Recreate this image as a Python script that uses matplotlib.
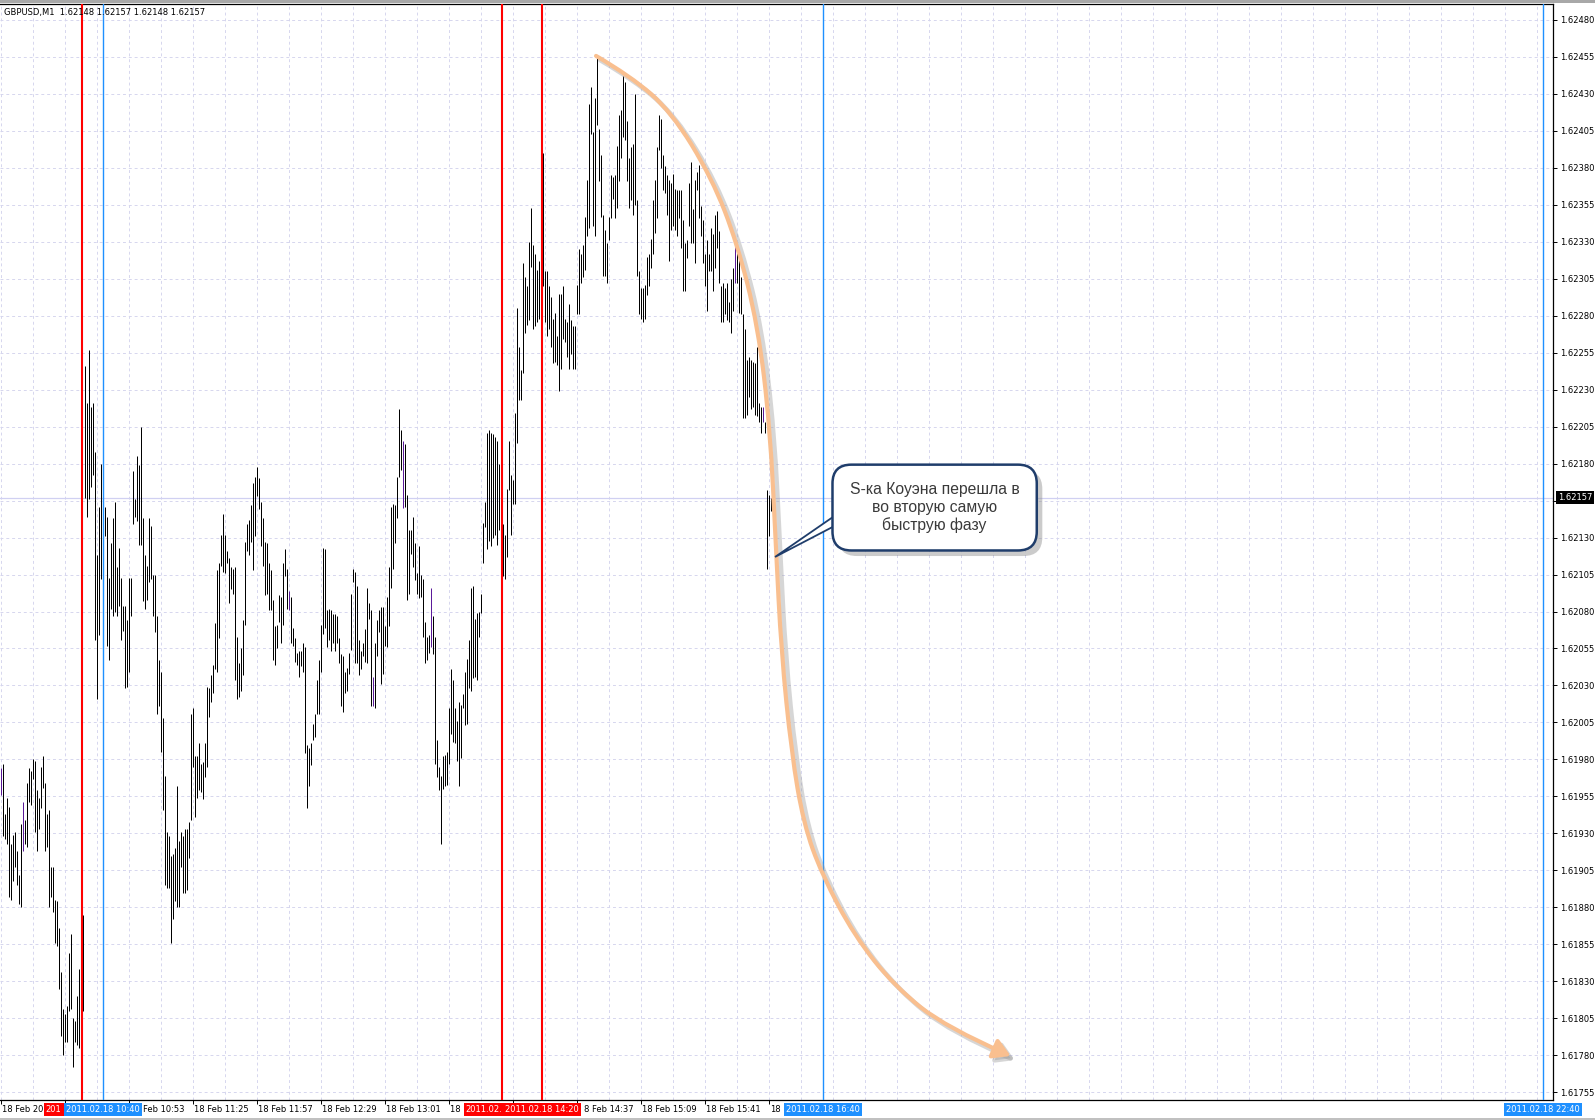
import numpy as np
import matplotlib
matplotlib.use("Agg")
import matplotlib.pyplot as plt
import matplotlib.transforms as mtransforms
import matplotlib.patheffects as pe
from matplotlib.path import Path
from matplotlib.patches import FancyArrowPatch, Polygon, Rectangle
from matplotlib.ticker import FuncFormatter


# =========================
# 1. Data (GBPUSD M1, prices in points above 1.61700)
# =========================
BASE = 1.617
POINT = 1e-5

highs = [
    274, 277, 243, 254, 248, 223, 229, 231, 218, 202, 236, 251, 239, 264, 274, 272, 280, 279, 259, 254,
    275, 282, 264, 243, 246, 207, 207, 185, 184, 166, 136, 111, 108, 113, 149, 162, 105, 103, 120, 138,
    133, 175, 546, 521, 557, 518, 521, 488, 418, 451, 480, 433, 451, 444, 403, 426, 443, 454, 410, 423,
    403, 384, 384, 374, 403, 403, 475, 456, 485, 479, 505, 443, 418, 411, 443, 438, 405, 405, 377, 347,
    339, 308, 269, 231, 228, 215, 216, 220, 262, 225, 231, 228, 233, 233, 238, 311, 315, 282, 282, 291,
    277, 278, 291, 329, 328, 337, 344, 372, 408, 413, 432, 446, 432, 421, 416, 410, 409, 410, 363, 345,
    355, 374, 427, 439, 442, 452, 467, 471, 478, 470, 454, 443, 427, 426, 413, 408, 388, 370, 371, 391,
    390, 413, 422, 409, 394, 390, 369, 362, 352, 353, 353, 359, 356, 290, 288, 291, 304, 311, 334, 347,
    371, 423, 422, 381, 382, 381, 378, 378, 377, 362, 351, 350, 339, 342, 352, 392, 409, 407, 397, 361,
    353, 359, 368, 396, 386, 381, 336, 359, 374, 381, 383, 383, 370, 390, 410, 451, 453, 452, 471, 517,
    503, 495, 493, 459, 435, 435, 444, 426, 406, 424, 405, 402, 373, 363, 364, 396, 377, 363, 293, 275,
    269, 282, 283, 285, 315, 341, 334, 315, 306, 319, 317, 324, 339, 348, 361, 396, 397, 375, 379, 380,
    392, 440, 454, 501, 503, 501, 500, 498, 495, 480, 470, 439, 432, 463, 495, 472, 469, 514, 585, 559,
    543, 616, 606, 600, 630, 653, 628, 622, 611, 617, 629, 690, 610, 610, 600, 593, 578, 582, 566, 595,
    595, 600, 578, 576, 588, 577, 573, 573, 601, 625, 622, 628, 647, 672, 723, 735, 704, 727, 754, 706,
    689, 648, 638, 629, 647, 675, 674, 675, 695, 716, 719, 742, 738, 712, 687, 694, 696, 730, 658, 610,
    599, 599, 601, 620, 622, 632, 658, 672, 694, 716, 713, 689, 681, 675, 672, 670, 676, 666, 665, 665,
    665, 645, 629, 631, 670, 684, 652, 672, 677, 682, 654, 645, 622, 631, 622, 639, 635, 648, 651, 637,
    600, 602, 599, 602, 589, 605, 612, 633, 624, 622, 606, 581, 571, 550, 552, 550, 549, 548, 559, 521,
    518, 518, 508, 462, 459, 457,
]

lows = [
    256, 228, 226, 223, 187, 185, 198, 207, 195, 182, 180, 218, 223, 221, 251, 249, 267, 231, 218, 233,
    247, 261, 218, 221, 180, 187, 177, 156, 154, 125, 93, 80, 89, 89, 110, 111, 72, 89, 87, 85,
    80, 110, 457, 444, 456, 464, 472, 361, 321, 364, 402, 416, 431, 357, 347, 382, 377, 380, 377, 384,
    361, 367, 328, 329, 339, 377, 439, 444, 441, 425, 425, 387, 382, 388, 400, 402, 377, 366, 311, 316,
    285, 246, 195, 193, 193, 156, 172, 184, 180, 180, 207, 190, 190, 192, 213, 239, 275, 241, 254, 259,
    258, 253, 268, 275, 309, 319, 325, 341, 339, 362, 411, 407, 406, 413, 386, 395, 392, 334, 321, 322,
    326, 337, 371, 421, 418, 427, 408, 431, 458, 449, 424, 411, 391, 392, 381, 381, 347, 344, 355, 373,
    359, 371, 404, 382, 381, 359, 357, 346, 344, 336, 343, 339, 284, 247, 262, 276, 293, 295, 311, 311,
    339, 365, 369, 356, 361, 353, 359, 353, 359, 345, 316, 312, 325, 326, 338, 354, 400, 345, 345, 337,
    341, 350, 346, 345, 375, 316, 316, 315, 350, 366, 331, 338, 357, 356, 370, 396, 409, 426, 443, 471,
    476, 450, 451, 388, 392, 419, 410, 401, 392, 389, 390, 363, 345, 347, 352, 356, 351, 277, 268, 259,
    223, 260, 262, 263, 277, 297, 292, 291, 279, 262, 281, 315, 303, 304, 328, 326, 335, 336, 334, 363,
    379, 413, 437, 422, 428, 424, 430, 432, 425, 435, 370, 404, 402, 417, 462, 432, 453, 453, 494, 523,
    523, 541, 568, 574, 577, 613, 571, 573, 576, 578, 590, 600, 576, 566, 571, 559, 548, 549, 547, 529,
    544, 564, 562, 552, 544, 554, 544, 544, 581, 581, 602, 606, 611, 634, 639, 703, 641, 634, 709, 671,
    647, 607, 607, 602, 631, 646, 659, 646, 653, 671, 687, 701, 699, 671, 653, 658, 648, 655, 607, 581,
    578, 576, 578, 594, 600, 612, 622, 636, 646, 692, 680, 665, 663, 648, 617, 638, 641, 638, 634, 646,
    626, 597, 597, 619, 641, 629, 629, 616, 665, 646, 634, 616, 600, 583, 610, 610, 597, 612, 626, 602,
    576, 576, 581, 577, 576, 568, 583, 602, 602, 582, 581, 511, 511, 513, 525, 517, 518, 513, 512, 508,
    501, 508, 501, 409, 431, 448,
]

# bars where open == close (drawn in purple by the terminal)
doji_bars = [0, 11, 144, 186, 201, 215, 367, 381]

# vertical markers (bar index) and the part of their time label left visible
red_lines = [40.5, 250.5, 270.5]
red_labels = ["201", "2011.02.", "2011.02.18 14:20"]
red_label_full = [False, False, True]
blue_lines = [51, 411, 771]
blue_labels = ["2011.02.18 10:40", "2011.02.18 16:40", "2011.02.18 22:40"]

# time axis: tick bars, the visible part of each label, and how far (px) it starts past the tick
time_tick_bars = [0, 32, 64, 96, 128, 160, 192, 224, 256, 288, 320, 352, 384]
time_tick_labels = ["18 Feb 20", "", "Feb 10:53", "18 Feb 11:25", "18 Feb 11:57",
                    "18 Feb 12:29", "18 Feb 13:01", "18 F", "", "8 Feb 14:37",
                    "18 Feb 15:09", "18 Feb 15:41", "18"]
time_label_shift = [1, 0, 14, 1, 1, 1, 1, 1, 0, 7, 1, 1, 1]

price_ticks = [1.61755 + 0.00025 * i for i in range(30)]
last_price = 1.62157
title = "GBPUSD,M1  1.62148 1.62157 1.62148 1.62157"

# hand-drawn S-curve (bar index, points)
curve_bars = [297.7, 315, 335.4, 355.7, 368.4, 378.6, 384.7, 387.7, 390.3,
              395.4, 401.5, 410.7, 426.9, 447.2, 472.6, 505.0]
curve_points = [755.7, 742, 717.9, 673, 628.5, 573.4, 504.7, 422, 353.3,
                284.6, 236.3, 202, 160.7, 126.3, 98.8, 79.5]

callout_text = "S-ка Коуэна перешла в\nво вторую самую\nбыструю фазу"


# =========================
# 2. Figure
# =========================
GRID = "#d6d6ee"
NAVY = "#1f3d6b"
PX = 0.5  # bars per pixel (2 px per M1 bar)

n = min(len(highs), len(lows))
bar_idx = np.arange(n)
hi = BASE + np.array(highs[:n]) * POINT
lo = BASE + np.array(lows[:n]) * POINT
bar_colors = ["#5b1a9a" if i in doji_bars else "black" for i in bar_idx]

fig = plt.figure(figsize=(15.95, 11.2), dpi=100)
ax = fig.add_axes([0, 20 / 1120, 1553 / 1595, 1096 / 1120])

for s in ["top", "right", "bottom"]:
    ax.spines[s].set_linewidth(0.9)
ax.spines["left"].set_visible(False)

# grid
for p in price_ticks:
    ax.axhline(p, color=GRID, lw=0.7, dashes=(3, 3), zorder=0)
for k in range(0, 777, 16):
    ax.axvline(k, color=GRID, lw=0.7, dashes=(3, 3), zorder=0)
ax.axhline(last_price, color="#d0d0f2", lw=0.9, zorder=0.5)


# price axis (the label under the last-price marker is hidden, as in the terminal)
def price_fmt(v, pos):
    if abs(v - last_price) < 0.00005:
        return ""
    return f"{v:.5f}"


ax.set_yticks(price_ticks)
ax.yaxis.set_major_formatter(FuncFormatter(price_fmt))
ax.yaxis.tick_right()
ax.tick_params(axis="y", direction="out", length=3, width=0.7, pad=2, labelsize=6)

# time axis
ax.set_xticks(time_tick_bars)
ax.set_xticklabels([])
ax.tick_params(axis="x", direction="out", length=3, width=0.7)

ax.set_xlim(-0.335, 776.2)
ax.set_ylim(BASE + 49.7 * POINT, BASE + 790.8 * POINT)

xtrans = ax.get_xaxis_transform()
for k, lab, sh in zip(time_tick_bars, time_tick_labels, time_label_shift):
    if lab:
        ax.text(k + sh * PX, -0.0045, lab, transform=xtrans, ha="left", va="top",
                fontsize=6, clip_on=False, zorder=3)

# bars
ax.vlines(bar_idx, lo, hi, colors=bar_colors, lw=0.72, snap=True, zorder=2)

# vertical markers and their labels
for k, lab, full in zip(red_lines, red_labels, red_label_full):
    ax.axvline(k, color="#ff0000", lw=1.5, snap=True, zorder=3)
    if full:
        ax.text(k, -0.0088, lab, transform=xtrans, ha="center", va="center",
                fontsize=6, color="white", clip_on=False, zorder=5,
                bbox=dict(boxstyle="square,pad=0.25", fc="#ff0000", ec="none"))
    else:
        ax.text(k - 19 + 2 * PX, -0.0088, lab, transform=xtrans, ha="left",
                va="center", fontsize=6, color="white", clip_on=False, zorder=5,
                bbox=dict(boxstyle="square,pad=0.25", fc="#ff0000", ec="none"))
for k, lab in zip(blue_lines, blue_labels):
    ax.axvline(k, color="#1e90ff", lw=1.0, snap=True, zorder=3)
    ax.text(k, -0.0088, lab, transform=xtrans, ha="center", va="center",
            fontsize=6, color="white", clip_on=False, zorder=6,
            bbox=dict(boxstyle="square,pad=0.25", fc="#1e90ff", ec="none"))

# last price marker
ax.text(1.0032, last_price, f"{last_price:.5f}", transform=ax.get_yaxis_transform(),
        ha="left", va="center", fontsize=6, color="white", clip_on=False, zorder=10,
        bbox=dict(boxstyle="square,pad=0.2", fc="black", ec="none"))

# header
ax.text(4 / 1553, 1 - 9 / 1096, title, transform=ax.transAxes, ha="left",
        va="center", fontsize=6, zorder=5)

# =========================
# 3. Annotation: curve + callout
# =========================
pts = [(k, BASE + v * POINT) for k, v in zip(curve_bars, curve_points)]
verts = [pts[0]]
codes = [Path.MOVETO]
for i in range(1, len(pts) - 1):
    mid = ((pts[i][0] + pts[i + 1][0]) / 2, (pts[i][1] + pts[i + 1][1]) / 2)
    if i == len(pts) - 2:
        mid = pts[-1]
    verts += [pts[i], mid]
    codes += [Path.CURVE3, Path.CURVE3]
curve_path = Path(verts, codes)

arrow_style = "-|>,head_length=0.5,head_width=0.3"
shadow = mtransforms.ScaledTranslation(3 / 72, -3 / 72, fig.dpi_scale_trans)
arrow_shadow = FancyArrowPatch(path=curve_path, arrowstyle=arrow_style,
                               mutation_scale=20, lw=3.4, color="#9a9a9a", alpha=0.4,
                               transform=ax.transData + shadow, zorder=6)
ax.add_patch(arrow_shadow)
arrow = FancyArrowPatch(path=curve_path, arrowstyle=arrow_style,
                        mutation_scale=20, lw=3.0, color="#f9bf8f", zorder=7)
ax.add_patch(arrow)

callout_x = 467
callout_y = BASE + 450.3 * POINT
tail = Polygon([[387.2, BASE + 416.9 * POINT],
                [420, BASE + 447.5 * POINT],
                [420, BASE + 440.0 * POINT]],
               closed=True, fc="white", ec=NAVY, lw=1.3, zorder=8)
ax.add_patch(tail)

callout = ax.text(callout_x, callout_y, callout_text, ha="center", va="center",
                  fontsize=11.3, family="Liberation Sans", linespacing=1.22,
                  multialignment="center", color="#3a3a3a", zorder=9,
                  bbox=dict(boxstyle="round,pad=1.1,rounding_size=1.2", fc="white",
                            ec=NAVY, lw=1.8))
callout.get_bbox_patch().set_path_effects([
    pe.SimplePatchShadow(offset=(4, -4), shadow_rgbFace="#8c8c8c", alpha=0.45),
    pe.Normal(),
])

# window frame bands
fig.add_artist(Rectangle((0, 1 - 3 / 1120), 1, 3 / 1120, transform=fig.transFigure,
                         fc="#a8a8a8", ec="none"))
fig.add_artist(Rectangle((0, 0), 1, 2 / 1120, transform=fig.transFigure,
                         fc="#c0c0c0", ec="none"))

fig.savefig("out.png", dpi=100)
plt.close(fig)
